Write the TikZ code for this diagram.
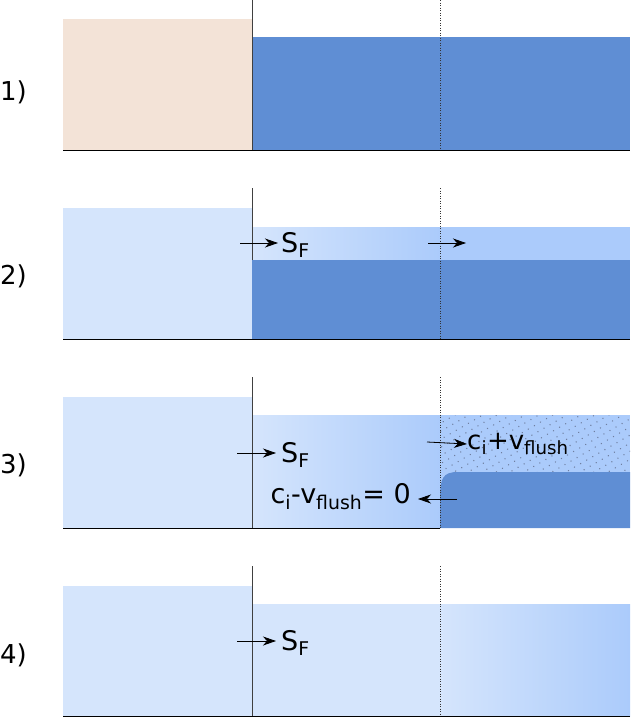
\documentclass[tikz,border=0pt]{standalone}
\usepackage{fontspec}
\setmainfont{DejaVu Sans}
\usetikzlibrary{patterns.meta,arrows.meta}
\definecolor{tan}{HTML}{F3E3D7}
\definecolor{dblue}{HTML}{5F8ED4}
\definecolor{lblue}{HTML}{D5E5FC}
\definecolor{mblue}{HTML}{ABCBFB}
\definecolor{dotc}{HTML}{6F7FA0}
\tikzset{
  wall/.style={draw=black!75, line width=0.8pt},
  dotline/.style={draw=black!80, line width=0.5pt, dotted},
  base/.style={draw=black, line width=1pt},
  arr/.style={-{Stealth[length=13pt,width=9pt,inset=4pt]}, line width=0.8pt},
  lab/.style={font=\fontsize{26}{30}\selectfont, anchor=west, inner sep=0pt},
  txt/.style={font=\fontsize{27}{30}\selectfont, inner sep=0pt},
}
\begin{document}
\begin{tikzpicture}[x=1pt,y=-1pt]
\useasboundingbox (0,0) rectangle (630,718);
% ---------- Panel 1
\fill[tan] (63,19) rectangle (252,150);
\fill[dblue] (252,37) rectangle (630,150);
\draw[dotline] (440,0) -- (440,150);
\draw[wall] (252,0) -- (252,150);
\draw[base] (63,150) -- (630,150);
\node[lab] (l1) at (0,92) {1)};
% ---------- Panel 2
\fill[lblue] (63,208) rectangle (252,339);
\shade[left color=lblue, right color=mblue] (252,227) rectangle (440,260);
\fill[mblue] (440,227) rectangle (630,260);
\fill[dblue] (252,260) rectangle (630,339);
\draw[dotline] (440,188) -- (440,339);
\draw[wall] (252,188) -- (252,260);
\draw[base] (63,339) -- (630,339);
\node[lab] (l2) at (0,276) {2)};
\coordinate (a2s) at (240,243);
\node[txt, anchor=west] (sf2) at (281,245) {S\textsubscript{F}};
\draw[arr] (a2s) -- (278,243);
\coordinate (a2a) at (428,243);
\coordinate (a2b) at (466,243);
\draw[arr] (a2a) -- (a2b);
% ---------- Panel 3
\fill[lblue] (63,397) rectangle (252,528);
\shade[left color=lblue, right color=mblue] (252,415) rectangle (440,528);
\fill[mblue] (440,415) rectangle (630,528);
\fill[pattern={Dots[distance=7pt,radius=0.75pt,angle=30]}, pattern color=dotc] (440,415) rectangle (630,472);
\fill[dblue] (440,528) -- (440,498) .. controls (440,478) and (443,472) .. (458,472) -- (630,472) -- (630,528) -- cycle;
\draw[dotline] (440,377) -- (440,528);
\draw[wall] (252,377) -- (252,528);
\draw[base] (63,528) -- (440,528);
\node[lab] (l3) at (0,465) {3)};
\coordinate (a3s) at (237,453);
\node[txt, anchor=west] (sf3) at (281,455) {S\textsubscript{F}};
\draw[arr] (a3s) -- (276,453);
\coordinate (a3p) at (427,442);
\node[txt, anchor=west, font=\fontsize{26}{30}\selectfont] (cp) at (467,444) {c\textsubscript{i}+v\textsubscript{flush}};
\draw[arr] (a3p) -- (cp.west);
\coordinate (a3m) at (457,499);
\node[txt, anchor=east] (cm) at (411,497) {c\textsubscript{i}-v\textsubscript{flush}= 0};
\draw[arr] (a3m) -- (418,499);
% ---------- Panel 4
\fill[lblue] (63,586) rectangle (252,716);
\fill[lblue] (252,604) rectangle (440,716);
\shade[left color=lblue, right color=mblue] (440,604) rectangle (630,716);
\draw[dotline] (440,566) -- (440,716);
\draw[wall] (252,566) -- (252,716);
\draw[base] (63,716) -- (630,716);
\node[lab] (l4) at (0,655) {4)};
\coordinate (a4s) at (237,641);
\node[txt, anchor=west] (sf4) at (281,643) {S\textsubscript{F}};
\draw[arr] (a4s) -- (276,641);
\end{tikzpicture}
\end{document}
